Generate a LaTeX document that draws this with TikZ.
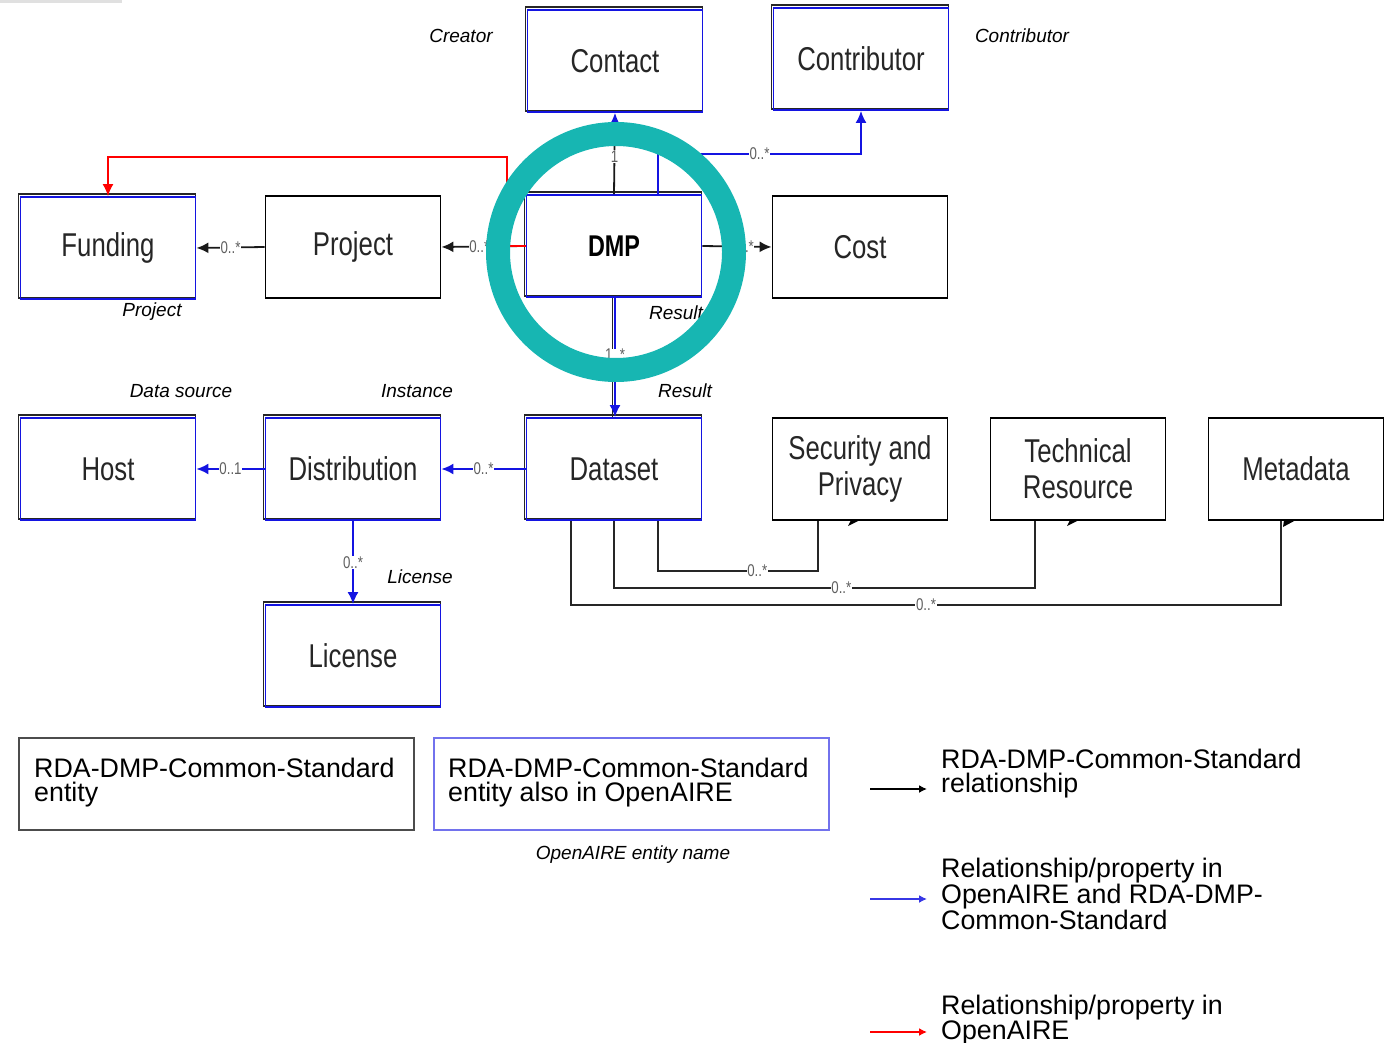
\documentclass[tikz,border=0pt]{standalone}
\usepackage{fontspec}
\setmainfont{Liberation Sans}
\newfontfamily\condfont[FakeStretch=0.78]{Liberation Sans}
\usetikzlibrary{arrows.meta,backgrounds}
\definecolor{teal1}{RGB}{23,182,178}
\definecolor{oablue}{RGB}{20,20,225}
\definecolor{mgray}{RGB}{95,95,95}
\begin{document}
\begin{tikzpicture}[x=1pt,y=-1pt,
  box/.style={draw=black, line width=1.8pt, minimum width=175pt, minimum height=102pt, inner sep=0pt, align=center,
    font=\condfont\fontsize{33}{36}\selectfont, text=black!85},
  oabox/.style={box, draw=oablue},
  mult/.style={font=\condfont\fontsize{17}{17}\selectfont, text=mgray, fill=white, inner sep=0.6pt},
  role/.style={font=\itshape\fontsize{19}{19}\selectfont, inner sep=0pt},
  tipk/.style={-{Latex[length=12pt,width=11pt]}},
  tipb/.style={-{Latex[length=12pt,width=11pt,color=oablue,fill=oablue]}},
  blk/.style={line width=1.8pt, draw=black!90},
  bln/.style={line width=1.8pt, draw=oablue},
  legtext/.style={font=\fontsize{26.8}{23.5}\selectfont, align=left, inner sep=0pt, anchor=north west},
]
\useasboundingbox (0,0) rectangle (1398,1043);
\fill[black!12] (0,0) rectangle (122,3);

% entity boxes
\node[oabox] (contact) at (615,61) {Contact};
\node[oabox] (contributor) at (861,59) {Contributor};
\node[oabox] (funding) at (108,248) {Funding};
\node[box] (project) at (353,247) {Project};
\node[oabox, font=\condfont\bfseries\fontsize{30}{32}\selectfont, text=black] (dmp) at (614,246) {DMP};
\node[box] (cost) at (860,247) {Cost};
\node[oabox] (host) at (108,469) {Host};
\node[oabox] (distribution) at (353,469) {Distribution};
\node[oabox] (dataset) at (614,469) {Dataset};
\node[box] (security) at (860,469) {Security and\\Privacy};
\node[box] (technical) at (1078,469) {Technical\\Resource};
\node[box] (metadata) at (1296,469) {Metadata};
\node[oabox] (license) at (353,656) {License};

\begin{scope}[on background layer]
\foreach \n in {contact,contributor,funding,dmp,host,distribution,dataset,license}
  \draw[line width=1.6pt, black!85] ([shift={(-1pt,2pt)}]\n.north west) rectangle ([shift={(-1pt,2pt)}]\n.south east);
\end{scope}

% role labels
\node[role] (lcreator) at (461,36) {Creator};
\node[role] (lcontrib) at (1022,36) {Contributor};
\node[role] (lproject) at (152,312) {Project};
\node[role] (lresult1) at (676,313) {Result};
\node[role] (lresult2) at (685,391) {Result};
\node[role] (ldatasource) at (181,391) {Data source};
\node[role] (linstance) at (417,391) {Instance};
\node[role] (llicense) at (420,577) {License};

% connectors
\coordinate (cb) at (658,154);
\coordinate (rc) at (507,157);
\draw[blk, tipb] (dmp.north) -- node[mult, pos=0.46]{1} (contact.south);
\draw[bln, tipb] ([xshift=44pt]dmp.north) -- (cb) -| node[mult, pos=0.25]{0..*} (contributor.south);
\draw[blk, tipk] (dmp.west) -- node[mult, pos=0.55]{0..*} (project.east);
\draw[line width=1.6pt, red, -{Latex[length=12pt,width=11pt]}] (dmp.west) -| (rc) -| (funding.north);
\draw[blk, tipk] (project.west) -- node[mult]{0..*} (funding.east);
\draw[blk, tipk] (dmp.east) -- node[mult, pos=0.6]{0..*} (cost.west);
\draw[line width=1.6pt, black!85] ([xshift=-1.5pt]dmp.south) -- ([xshift=-1.5pt]dataset.north);
\draw[bln, tipb] ([xshift=1pt]dmp.south) -- node[mult, pos=0.48]{1..*} ([xshift=1pt]dataset.north);
\draw[bln, tipb] (dataset.west) -- node[mult]{0..*} (distribution.east);
\draw[bln, tipb] (distribution.west) -- node[mult]{0..1} (host.east);
\draw[bln, tipb] (distribution.south) -- node[mult]{0..*} (license.north);

\coordinate (s1) at (818,571);
\coordinate (s2) at (1035,588);
\coordinate (s3) at (1281,605);
\draw[line width=1.5pt, black!85] ([xshift=44pt]dataset.south) |- node[mult, pos=0.81]{0..*} (s1) -- (s1 |- security.south);
\draw[line width=1.5pt, black!85] (dataset.south) |- node[mult, pos=0.77]{0..*} (s2) -- (s2 |- technical.south);
\draw[line width=1.5pt, black!85] ([xshift=-43pt]dataset.south) |- node[mult, pos=0.75]{0..*} (s3) -- (s3 |- metadata.south);
\fill (848,526) -- (851,520) -- (860,520) -- cycle;
\fill (1067,526) -- (1070,520) -- (1079,520) -- cycle;
\fill (1283,527) -- (1284,520) -- (1296,520) -- cycle;

% highlight ring
\draw[teal1, line width=24pt] (616,252) circle (118pt);

% legend
\node[draw=black!70, line width=1.8pt, minimum width=395pt, minimum height=92pt, inner sep=0pt] (leg1) at (216.5,784) {};
\node[draw=oablue!60, line width=1.6pt, minimum width=395pt, minimum height=92pt, inner sep=0pt] (leg2) at (631.5,784) {};
\node[legtext] (leg1t) at (34,758) {RDA-DMP-Common-Standard\\entity};
\node[legtext] (leg2t) at (448,758) {RDA-DMP-Common-Standard\\entity also in OpenAIRE};
\node[role] (oaname) at (633,855) {OpenAIRE entity name};

\coordinate (a1s) at (870,789); \coordinate (a1e) at (927,789);
\coordinate (a2s) at (870,899); \coordinate (a2e) at (927,899);
\coordinate (a3s) at (870,1032); \coordinate (a3e) at (927,1032);
\draw[line width=1.5pt, black, -{Latex[length=8pt,width=8pt]}] (a1s) -- (a1e);
\draw[line width=1.5pt, oablue!85, -{Latex[length=8pt,width=8pt]}] (a2s) -- (a2e);
\draw[line width=1.5pt, red, -{Latex[length=8pt,width=8pt]}] (a3s) -- (a3e);
\node[legtext] (l1) at (941,749) {RDA-DMP-Common-Standard\\relationship};
\node[legtext] (l2) at (941,858) {Relationship/property in\\OpenAIRE and RDA-DMP-\\Common-Standard};
\node[legtext] (l3) at (941,995) {Relationship/property in\\OpenAIRE};
\end{tikzpicture}
\end{document}
